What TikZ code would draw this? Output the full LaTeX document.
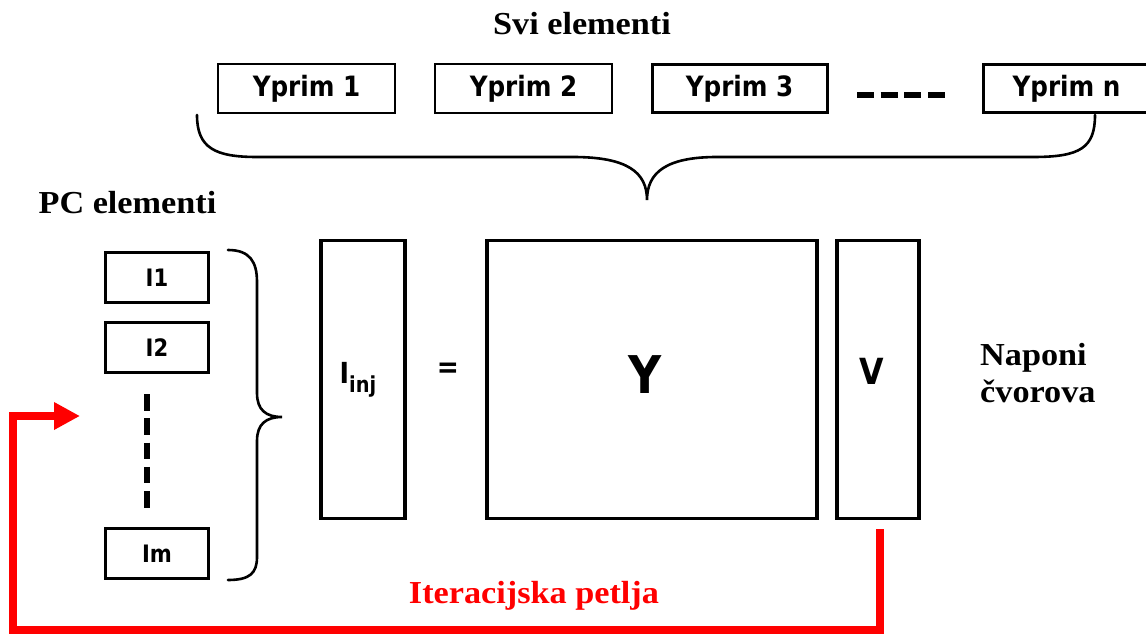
\documentclass[tikz,border=0pt]{standalone}
\usepackage{fontspec}
\setmainfont{Liberation Serif}[FakeStretch=1.07]
\newfontfamily\sansb{DejaVu Sans}[FakeStretch=0.88]
\usetikzlibrary{arrows.meta}
\definecolor{loopred}{RGB}{255,0,0}
\begin{document}
\begin{tikzpicture}[x=1pt,y=-1pt,
  ypbox/.style={draw, line width=2pt, minimum height=48pt, inner sep=0pt,
    font=\sansb\bfseries\fontsize{28}{30}\selectfont},
  ibox/.style={draw, line width=2.6pt, minimum width=103pt, minimum height=50pt, inner sep=0pt,
    font=\sansb\bfseries\fontsize{24}{26}\selectfont},
  matbox/.style={draw, line width=3.5pt, minimum height=278pt, inner sep=0pt},
  sertitle/.style={font=\bfseries\fontsize{32}{36}\selectfont, inner sep=0pt},
  bracestyle/.style={line width=2.6pt, line cap=round},
  dotted3/.style={line width=6pt},
  redloop/.style={draw=loopred, line width=8pt, -{Triangle[length=26pt,width=26pt]}}
]
\useasboundingbox (0,0) rectangle (1146,634);

% top title
\node[sertitle, anchor=base] (svi) at (582,35) {Svi elementi};

% Yprim boxes
\node[ypbox, minimum width=177pt] (yp1) at (306.5,88.5) {Yprim 1};
\node[ypbox, minimum width=177pt] (yp2) at (523.5,88.5) {Yprim 2};
\node[ypbox, minimum width=175pt, line width=3pt] (yp3) at (739.5,88.5) {Yprim 3};
\node[ypbox, minimum width=167pt, line width=3pt] (ypn) at (1066.5,88.5) {Yprim n};
\draw[dotted3, dash pattern=on 17pt off 6.7pt] (857,95) -- (946,95);

% top brace
\draw[bracestyle] (197,115) .. controls (197,148) and (215,157) .. (257,157)
  -- (573,157) .. controls (627,157) and (647,172) .. (647,200)
  .. controls (647,172) and (667,157) .. (717,157)
  -- (1033,157) .. controls (1080,157) and (1095,148) .. (1095,115);

% PC elementi
\node[sertitle, anchor=base] (pc) at (127.5,213) {PC elementi};
\node[ibox] (i1) at (157,277.5) {I1};
\node[ibox] (i2) at (157,347.5) {I2};
\node[ibox] (im) at (157,553.5) {Im};
\draw[dotted3, dash pattern=on 16.5pt off 7.8pt] (147,394) -- (147,509);

% left brace
\draw[bracestyle] (228,250) .. controls (250,250) and (257,262) .. (257,282)
  -- (257,393) .. controls (257,410) and (266,417) .. (282,417)
  .. controls (266,417) and (257,424) .. (257,441)
  -- (257,557) .. controls (257,573) and (250,580) .. (228,580);

% matrix equation
\node[matbox, minimum width=84pt] (iinj) at (363,379.5) {};
\node[font=\sansb\bfseries\fontsize{29}{30}\selectfont, anchor=base, inner sep=0pt] (iinjlbl) at (358,383)
  {I\raisebox{-9pt}{\fontsize{22}{22}\selectfont inj}};
\node[font=\sansb\bfseries\fontsize{30}{30}\selectfont, inner sep=0pt] (eq) at (448,370) {=};
\node[matbox, minimum width=330pt] (ymat) at (652,379.5) {};
\node[font=\sansb\bfseries\fontsize{52}{56}\selectfont, inner sep=0pt, anchor=base] (ylbl) at (645,393) {Y};
\node[matbox, minimum width=82pt] (vvec) at (878,379.5) {};
\node[font=\sansb\bfseries\fontsize{36}{40}\selectfont, inner sep=0pt, anchor=base] (vlbl) at (872,384) {V};

% Naponi cvorova
\node[sertitle, anchor=base west] (nap1) at (980,365) {Naponi};
\node[sertitle, anchor=base west] (nap2) at (980,402) {čvorova};

% iteration loop
\coordinate (rs) at ([xshift=2pt,yshift=-9pt]vvec.south);
\coordinate (rbr) at (880,630);
\coordinate (rbl) at (13,630);
\coordinate (rtl) at (13,416);
\coordinate (rtip) at (80,416);
\draw[redloop] (rs) -- (rbr) -- (rbl) -- (rtl) -- (rtip);
\node[sertitle, anchor=base, text=loopred] (iter) at (534,603) {Iteracijska petlja};
\end{tikzpicture}
\end{document}
